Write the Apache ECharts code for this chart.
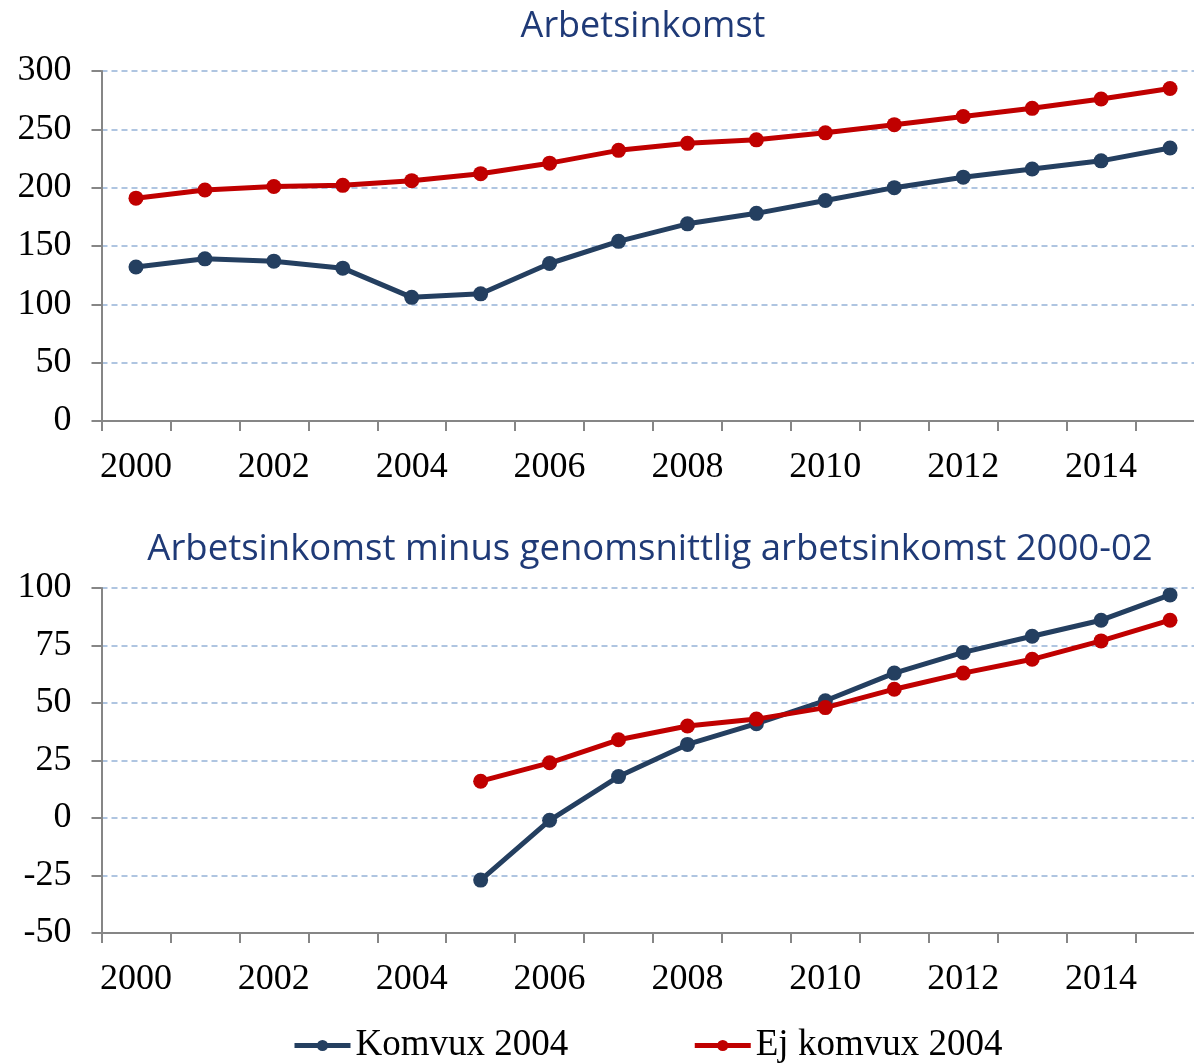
<!DOCTYPE html>
<html>
<head>
<meta charset="utf-8">
<script src="https://cdn.jsdelivr.net/npm/echarts@6/dist/echarts.min.js"></script>
<style>html,body{margin:0;padding:0;background:#fff}#c{width:1194px;height:1064px}</style>
</head>
<body>
<div id="c"></div>
<script>
const years = ['2000','2001','2002','2003','2004','2005','2006','2007','2008','2009','2010','2011','2012','2013','2014','2015'];
const topKomvux = [132,139,137,131,106,109,135,154,169,178,189,200,209,216,223,234];
const topEj = [191,198,201,202,206,212,221,232,238,241,247,254,261,268,276,285];
const botKomvux = [null,null,null,null,null,-27,-1,18,32,41,51,63,72,79,86,97];
const botEj = [null,null,null,null,null,16,24,34,40,43,48,56,63,69,77,86];
const title1 = 'Arbetsinkomst';
const title2 = 'Arbetsinkomst minus genomsnittlig arbetsinkomst 2000-02';
const nameK = 'Komvux 2004';
const nameE = 'Ej komvux 2004';

const navy = '#243F60';
const red = '#C00000';
const serif = '"Liberation Serif", "Times New Roman", serif';
const sans = '"Open Sans", sans-serif';

const chart = echarts.init(document.getElementById('c'));
function xAxis(gi){
  return {
    type:'category', data:years, gridIndex:gi, boundaryGap:true,
    axisLine:{onZero:false, lineStyle:{color:'#868686', width:2}},
    axisTick:{show:true, interval:0, length:10, lineStyle:{color:'#868686', width:2}},
    axisLabel:{interval:1, color:'#000', fontFamily:serif, fontSize:36, margin:29},
    splitLine:{show:false}
  };
}
function yAxis(gi,min,max,intv){
  return {
    type:'value', gridIndex:gi, min:min, max:max, interval:intv,
    axisLine:{show:true, lineStyle:{color:'#868686', width:2}},
    axisTick:{show:true, length:10, lineStyle:{color:'#868686', width:2}},
    axisLabel:{color:'#000', fontFamily:serif, fontSize:36, margin:30},
    splitLine:{show:true, lineStyle:{color:'#95B3D7', type:[6,4], width:1.5}}
  };
}
function line(name, data, color, xi){
  return {
    name:name, type:'line', data:data, xAxisIndex:xi, yAxisIndex:xi,
    symbol:'circle', symbolSize:15, showSymbol:true, connectNulls:false,
    lineStyle:{color:color, width:5}, itemStyle:{color:color},
    emphasis:{disabled:true}, animation:false
  };
}
chart.setOption({
  animation:false,
  title:[
    {text:title1, left:638, top:4, textAlign:'center', textStyle:{color:'#1F3A77', fontFamily:sans, fontSize:36, fontWeight:'normal'}},
    {text:title2, left:645, top:526, textAlign:'center', textStyle:{color:'#1F3A77', fontFamily:sans, fontSize:36.5, fontWeight:'normal'}}
  ],
  grid:[
    {left:101.5, width:1103, top:71, height:350, outerBoundsMode:'none', containLabel:false},
    {left:101.5, width:1103, top:588, height:345, outerBoundsMode:'none', containLabel:false}
  ],
  xAxis:[xAxis(0), xAxis(1)],
  yAxis:[yAxis(0,0,300,50), yAxis(1,-50,100,25)],
  legend:{
    data:[nameK, nameE], left:287, top:1022, itemWidth:56, itemHeight:14, itemGap:124,
    lineStyle:{width:5},
    textStyle:{color:'#000', fontFamily:serif, fontSize:37}
  },
  series:[
    line(nameK, topKomvux, navy, 0),
    line(nameE, topEj, red, 0),
    line(nameK, botKomvux, navy, 1),
    line(nameE, botEj, red, 1)
  ]
});
</script>
</body>
</html>
